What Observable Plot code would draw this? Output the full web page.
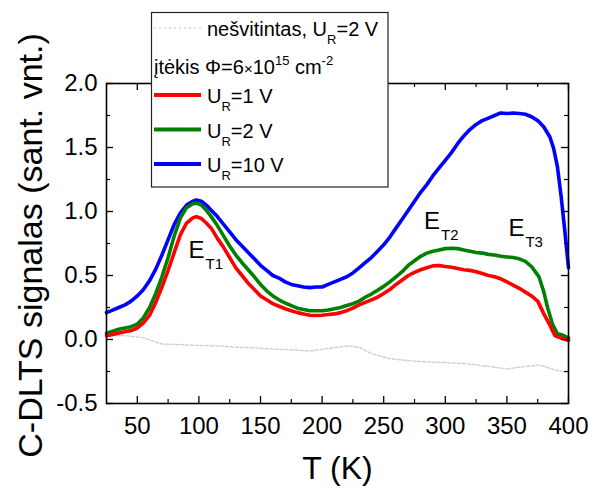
<!DOCTYPE html>
<html><head><meta charset="utf-8">
<script src="https://cdn.jsdelivr.net/npm/d3@7"></script>
<script src="https://cdn.jsdelivr.net/npm/@observablehq/plot@0.6"></script>
<style>
html,body{margin:0;padding:0;background:#fff;}
#chart{position:relative;width:591px;height:488px;}
</style></head><body><div id="chart"></div>
<script>
// ---- data ----
const xMajor = [50, 100, 150, 200, 250, 300, 350, 400];
const xMinor = [75, 125, 175, 225, 275, 325, 375];
const yMajor = [-0.5, 0, 0.5, 1, 1.5, 2];
const yMinor = [-0.25, 0.25, 0.75, 1.25, 1.75];
const xTitle = "T (K)";
const yTitle = "C-DLTS signalas (sant. vnt.)";

// unirradiated, U_R = 2 V
const unirradiated = [[25,0.03],[40,0.03],[55,0.015],[65,-0.02],[70,-0.035],[85,-0.04],[100,-0.047],[115,-0.05],[130,-0.06],[145,-0.065],[160,-0.075],[175,-0.08],[190,-0.09],[205,-0.07],[220,-0.05],[230,-0.06],[240,-0.11],[255,-0.15],[270,-0.165],[285,-0.175],[300,-0.18],[318,-0.19],[335,-0.21],[350,-0.23],[365,-0.21],[377,-0.2],[390,-0.24],[398,-0.255]];

const ur10 = [[25,0.21],[30,0.23],[35,0.25],[40,0.27],[45,0.3],[50,0.34],[55,0.39],[60,0.46],[65,0.55],[70,0.66],[75,0.78],[80,0.9],[85,0.99],[90,1.05],[95,1.08],[98,1.09],[102,1.08],[106,1.05],[110,1.01],[115,0.96],[120,0.9],[125,0.84],[130,0.78],[135,0.73],[140,0.68],[145,0.63],[150,0.58],[155,0.54],[160,0.5],[165,0.48],[170,0.45],[175,0.43],[180,0.42],[185,0.41],[190,0.405],[195,0.41],[200,0.41],[205,0.43],[210,0.45],[215,0.47],[220,0.49],[225,0.52],[230,0.56],[235,0.6],[240,0.64],[245,0.69],[250,0.74],[255,0.8],[260,0.87],[265,0.94],[270,1.01],[275,1.08],[280,1.15],[285,1.21],[290,1.28],[295,1.34],[300,1.4],[305,1.46],[310,1.53],[315,1.59],[320,1.64],[325,1.68],[330,1.71],[335,1.73],[340,1.75],[345,1.77],[350,1.765],[355,1.77],[360,1.765],[365,1.76],[370,1.74],[375,1.71],[380,1.66],[385,1.58],[388,1.49],[391,1.35],[394,1.12],[397,0.85],[400,0.56]];

const ur2 = [[25,0.05],[30,0.065],[35,0.08],[40,0.09],[45,0.1],[50,0.12],[55,0.17],[60,0.25],[65,0.36],[70,0.49],[75,0.64],[80,0.81],[85,0.95],[90,1.03],[95,1.06],[98,1.065],[102,1.05],[106,1.01],[110,0.96],[115,0.89],[120,0.81],[125,0.73],[130,0.66],[135,0.6],[140,0.545],[145,0.49],[150,0.43],[155,0.38],[160,0.34],[165,0.31],[170,0.285],[175,0.265],[180,0.245],[185,0.235],[190,0.225],[195,0.225],[200,0.225],[205,0.23],[210,0.24],[215,0.25],[220,0.265],[225,0.28],[230,0.3],[235,0.33],[240,0.355],[245,0.385],[250,0.415],[255,0.45],[260,0.49],[265,0.53],[270,0.58],[275,0.615],[280,0.65],[285,0.675],[290,0.69],[295,0.7],[300,0.71],[305,0.713],[310,0.71],[315,0.7],[320,0.69],[325,0.68],[330,0.675],[335,0.665],[340,0.66],[345,0.65],[350,0.645],[355,0.64],[360,0.63],[365,0.61],[370,0.57],[373,0.53],[376,0.49],[380,0.37],[383,0.25],[387,0.12],[391,0.045],[395,0.035],[400,0.013]];

const ur1 = [[25,0.03],[30,0.04],[35,0.05],[40,0.06],[45,0.07],[50,0.09],[55,0.13],[60,0.19],[65,0.29],[70,0.41],[75,0.54],[80,0.68],[85,0.82],[90,0.91],[95,0.95],[98,0.96],[102,0.945],[106,0.91],[110,0.87],[115,0.79],[120,0.72],[125,0.64],[130,0.56],[135,0.5],[140,0.44],[145,0.39],[150,0.34],[155,0.31],[160,0.28],[165,0.26],[170,0.24],[175,0.225],[180,0.21],[185,0.2],[190,0.19],[195,0.187],[200,0.19],[205,0.195],[210,0.2],[215,0.21],[220,0.225],[225,0.245],[230,0.27],[235,0.29],[240,0.31],[245,0.33],[250,0.36],[255,0.39],[260,0.43],[265,0.465],[270,0.5],[275,0.525],[280,0.545],[285,0.56],[290,0.575],[295,0.578],[300,0.57],[305,0.565],[310,0.555],[315,0.545],[320,0.54],[325,0.53],[330,0.515],[335,0.5],[340,0.49],[345,0.474],[350,0.45],[355,0.425],[360,0.4],[365,0.37],[370,0.34],[375,0.3],[380,0.2],[385,0.11],[389,0.03],[393,0.015],[400,-0.008]];

const peakLabels = [
  {T: 91.6, v: 0.633, main: "E", sub: "T1"},
  {T: 282.7, v: 0.865, main: "E", sub: "T2"},
  {T: 351.2, v: 0.805, main: "E", sub: "T3"}
];

const seriesNames = ["nešvitintas", "UR=10 V", "UR=2 V", "UR=1 V"];
const seriesColors = ["#cfcfcf", "#0000ff", "#008000", "#ff0000"];
const seriesData = [unirradiated, ur10, ur2, ur1];

// legend text fragments ([text, mode])
const legendNesv = [["nešvitintas, U",""],["R","sub"],["=2 V",""]];
const legendFluence = [["įtėkis Φ=6",""],["×","small"],["10",""],["15","sup"],[" cm",""],["-2","sup"]];
const legendUR1 = [["U",""],["R","sub"],["=1 V",""]];
const legendUR2 = [["U",""],["R","sub"],["=2 V",""]];
const legendUR10 = [["U",""],["R","sub"],["=10 V",""]];

// ---- layout ----
const W = 591, H = 488;
const mL = 106, mR = 23, mT = 83, mB = 85;
const fw = W - mL - mR, fh = H - mT - mB;
const FONT = "'Liberation Sans', Arial, Helvetica, sans-serif";

const rows = seriesData.map((arr, i) => arr.map(([T, v]) => ({T, v, s: seriesNames[i]})));
const lineMarks = rows.map((d, i) => Plot.line(d, {
  x: "T", y: "v",
  stroke: seriesColors[i],
  strokeWidth: i === 0 ? 1.4 : 3.6,
  strokeDasharray: i === 0 ? "3,2" : null,
  strokeLinejoin: "round", strokeLinecap: "round"
}));

const plot = Plot.plot({
  width: W, height: H,
  marginLeft: mL, marginRight: mR, marginTop: mT, marginBottom: mB,
  style: {fontFamily: FONT, color: "black", background: "white", overflow: "visible"},
  x: {domain: [25, 400]},
  y: {domain: [-0.5, 2]},
  marks: [
    ...lineMarks,
    Plot.frame({stroke: "black", strokeWidth: 1.6}),
    Plot.ruleX(xMajor, {x: d => d, insetTop: fh - 7, stroke: "black", strokeWidth: 1.3}),
    Plot.ruleX(xMajor, {x: d => d, insetBottom: fh - 7, stroke: "black", strokeWidth: 1.3}),
    Plot.ruleX(xMinor, {x: d => d, insetTop: fh - 4, stroke: "black", strokeWidth: 1.2}),
    Plot.ruleX(xMinor, {x: d => d, insetBottom: fh - 4, stroke: "black", strokeWidth: 1.2}),
    Plot.ruleY(yMajor, {y: d => d, insetRight: fw - 7, stroke: "black", strokeWidth: 1.3}),
    Plot.ruleY(yMajor, {y: d => d, insetLeft: fw - 7, stroke: "black", strokeWidth: 1.3}),
    Plot.ruleY(yMinor, {y: d => d, insetRight: fw - 4, stroke: "black", strokeWidth: 1.2}),
    Plot.ruleY(yMinor, {y: d => d, insetLeft: fw - 4, stroke: "black", strokeWidth: 1.2}),
    Plot.axisX(xMajor, {tickSize: 0, tickPadding: 13, fontSize: 24, tickFormat: d => String(d), label: null}),
    Plot.axisY(yMajor, {tickSize: 0, tickPadding: 9, fontSize: 24, tickFormat: d => d.toFixed(1), label: null}),
    Plot.text([xTitle], {text: d => d, frameAnchor: "bottom", dy: 75, lineAnchor: "bottom", textAnchor: "middle", fontSize: 32}),
    Plot.text([yTitle], {text: d => d, frameAnchor: "left", dx: -65, dy: 2, rotate: -90, lineAnchor: "bottom", textAnchor: "middle", fontSize: 34}),
    Plot.text(peakLabels, {x: "T", y: "v", text: "main", textAnchor: "start", lineAnchor: "bottom", fontSize: 24}),
    Plot.text(peakLabels, {x: "T", y: "v", text: "sub", textAnchor: "start", lineAnchor: "bottom", fontSize: 15, dx: 17, dy: 11})
  ]
});

document.getElementById("chart").appendChild(plot);

// ---- legend ----
const svg = d3.select(plot);
const g = svg.append("g").attr("font-family", FONT).attr("fill", "black").attr("text-anchor", "start");
g.append("rect").attr("x", 151.5).attr("y", 12.5).attr("width", 236.5).attr("height", 174.5)
  .attr("fill", "white").attr("stroke", "#222").attr("stroke-width", 1.2);

function richText(parts, x, y, size) {
  const t = g.append("text").attr("x", x).attr("y", y).attr("font-size", size).attr("text-anchor", "start");
  let cur = 0;
  for (const [s, mode] of parts) {
    const target = mode === "sub" ? 8 : mode === "sup" ? -9 : 0;
    const fs = mode === "sub" || mode === "sup" ? 13 : mode === "small" ? 15 : size;
    t.append("tspan").attr("dy", target - cur).attr("font-size", fs).text(s);
    cur = target;
  }
}
const lx1 = 154, lx2 = 201, tx = 207;
// dotted entry
g.append("line").attr("x1", lx1).attr("x2", lx2).attr("y1", 28).attr("y2", 28)
  .attr("stroke", "#d8d8d8").attr("stroke-width", 1.4).attr("stroke-dasharray", "2,3");
richText(legendNesv, tx, 36, 20);
richText(legendFluence, 154, 74, 20);
const entries = [[legendUR1, seriesColors[3]], [legendUR2, seriesColors[2]], [legendUR10, seriesColors[1]]];
entries.forEach(([parts, color], i) => {
  const y = 95 + i * 34.5;
  g.append("line").attr("x1", lx1).attr("x2", lx2).attr("y1", y).attr("y2", y)
    .attr("stroke", color).attr("stroke-width", 4);
  richText(parts, tx, y + 8, 20);
});
</script>
</body></html>
